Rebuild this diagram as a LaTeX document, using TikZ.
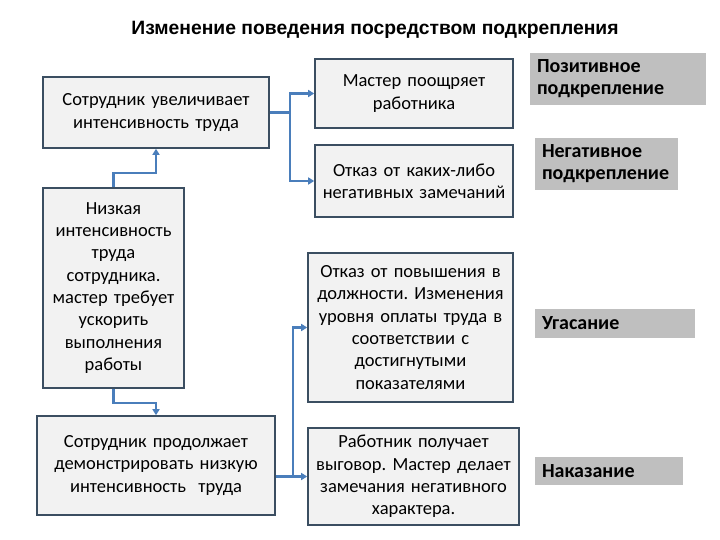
\documentclass[tikz,border=0pt]{standalone}
\usepackage{fontspec}
\setmainfont{Carlito}
\newfontfamily\titlefont{Liberation Sans}
\usetikzlibrary{arrows.meta}
\frenchspacing
\definecolor{boxfill}{HTML}{F2F2F2}
\definecolor{boxdraw}{HTML}{3B4E61}
\definecolor{labfill}{HTML}{BFBFBF}
\definecolor{conn}{HTML}{4A7EBB}
\tikzset{
  box/.style={draw=boxdraw, fill=boxfill, line width=1.6pt, align=center, inner sep=1pt, font=\fontsize{18.5}{22.3}\selectfont},
  lab/.style={fill=labfill, align=left, anchor=center, inner sep=0pt, font=\bfseries\fontsize{20}{22}\selectfont},
  conline/.style={draw=conn, line width=2.2pt, -{Triangle[length=6pt,width=7pt]}},
  conplain/.style={draw=conn, line width=2.2pt}
}
\begin{document}
\begin{tikzpicture}[x=1pt,y=-1pt]
\useasboundingbox (0,0) rectangle (720,540);
\node[font=\titlefont\bfseries\fontsize{19.3}{22}\selectfont] (title) at (375,30) {Изменение поведения посредством подкрепления};

\node[box, minimum width=226pt, minimum height=71pt, text width=224pt] (A) at (156,112.5) {Сотрудник увеличивает\\интенсивность труда};
\node[box, minimum width=141pt, minimum height=200pt, text width=139pt] (B) at (113.5,288) {Низкая\\интенсивность\\труда\\сотрудника.\\ мастер требует\\ускорить\\выполнения\\работы};
\node[box, minimum width=238pt, minimum height=99pt, text width=236pt] (C) at (156,465.5) {Сотрудник продолжает\\демонстрировать низкую\\интенсивность\ \ труда};

\node[box, minimum width=198pt, minimum height=69pt, text width=196pt] (D) at (414,93.5) {Мастер поощряет\\работника};
\node[box, minimum width=198pt, minimum height=72pt, text width=196pt] (E) at (414,181) {Отказ от каких-либо\\негативных замечаний};
\node[box, minimum width=205pt, minimum height=149pt, text width=203pt] (F) at (410.5,327.5) {Отказ от повышения в\\должности. Изменения\\уровня оплаты труда в\\соответствии с\\достигнутыми\\показателями};
\node[box, minimum width=211pt, minimum height=97pt, text width=209pt] (G) at (413.5,476.5) {Работник получает\\выговор. Мастер делает\\замечания негативного\\характера.};

\node[lab, minimum width=176pt, minimum height=52pt, text width=162pt] (P1) at (618,79) {Позитивное\\подкрепление};
\node[lab, minimum width=143pt, minimum height=52pt, text width=129pt] (P2) at (606.5,164) {Негативное\\подкрепление};
\node[lab, minimum width=160pt, minimum height=29pt, text width=146pt] (P3) at (615,323.5) {Угасание};
\node[lab, minimum width=148pt, minimum height=28pt, text width=134pt] (P4) at (609,471) {Наказание};

\coordinate (j1) at (290,112.5);
\draw[conplain] (A.east) -- (j1);
\draw[conline] (j1) |- (D.west);
\draw[conline] (j1) |- (E.west);

\coordinate (j2) at (113.5,173);
\draw[conline] (B.north) -- (j2) -| (A.south);
\coordinate (j3) at (113.5,403);
\draw[conline] (B.south) -- (j3) -| (C.north);

\coordinate (j4) at (293,476.5);
\draw[conline] (C.east |- G.west) -- (G.west);
\draw[conline] (j4) |- (F.west);
\end{tikzpicture}
\end{document}
